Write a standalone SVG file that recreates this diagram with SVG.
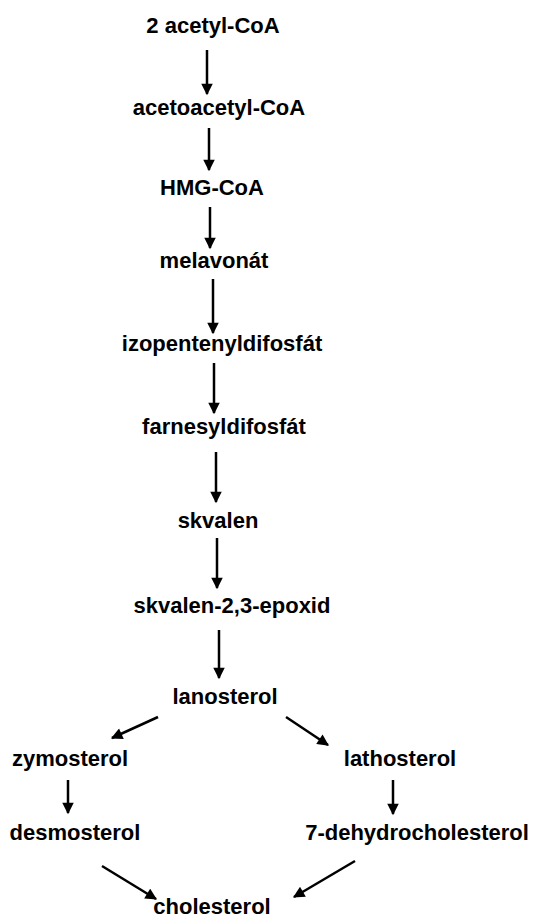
<svg xmlns="http://www.w3.org/2000/svg" width="533" height="921" viewBox="0 0 533 921">
<style>
text{font-family:"Liberation Sans",Arial,sans-serif;font-weight:bold;font-size:22px;fill:#000;text-anchor:middle}
.c line{stroke:#000;stroke-width:2.5;marker-end:url(#ah)}
</style>
<defs>
<marker id="ah" viewBox="0 0 10 10" refX="9" refY="5" markerWidth="5" markerHeight="4.6" markerUnits="strokeWidth" orient="auto">
<path d="M0,0 L10,5 L0,10 z" fill="#000"/>
</marker>
</defs>
<rect width="533" height="921" fill="#fff"/>
<g id="n1"><text x="213" y="33">2 acetyl-CoA</text></g>
<g id="n2"><text x="219" y="115">acetoacetyl-CoA</text></g>
<g id="n3"><text x="212" y="195">HMG-CoA</text></g>
<g id="n4"><text x="214" y="268">melavonát</text></g>
<g id="n5"><text x="222" y="351">izopentenyldifosfát</text></g>
<g id="n6"><text x="224" y="434">farnesyldifosfát</text></g>
<g id="n7"><text x="218" y="528">skvalen</text></g>
<g id="n8"><text x="232" y="613">skvalen-2,3-epoxid</text></g>
<g id="n9"><text x="225" y="704">lanosterol</text></g>
<g id="n10"><text x="70" y="766">zymosterol</text></g>
<g id="n11"><text x="400" y="766">lathosterol</text></g>
<g id="n12"><text x="75" y="840">desmosterol</text></g>
<g id="n13"><text x="417" y="840">7-dehydrocholesterol</text></g>
<g id="n14"><text x="212" y="914">cholesterol</text></g>
<g id="connectors" class="c">
<line x1="207" y1="50" x2="207" y2="94"/>
<line x1="209" y1="128" x2="209" y2="170"/>
<line x1="210" y1="207" x2="210" y2="248"/>
<line x1="213" y1="279" x2="213" y2="333"/>
<line x1="214" y1="363" x2="214" y2="413"/>
<line x1="216" y1="452" x2="216" y2="502"/>
<line x1="217" y1="538" x2="217" y2="588"/>
<line x1="219" y1="630" x2="219" y2="678"/>
<line x1="158" y1="717" x2="112" y2="738"/>
<line x1="286" y1="717" x2="328" y2="745"/>
<line x1="68" y1="780" x2="68" y2="813"/>
<line x1="393" y1="780" x2="393" y2="814"/>
<line x1="102" y1="866" x2="156" y2="899"/>
<line x1="355" y1="861" x2="294" y2="897"/>
</g>
</svg>
